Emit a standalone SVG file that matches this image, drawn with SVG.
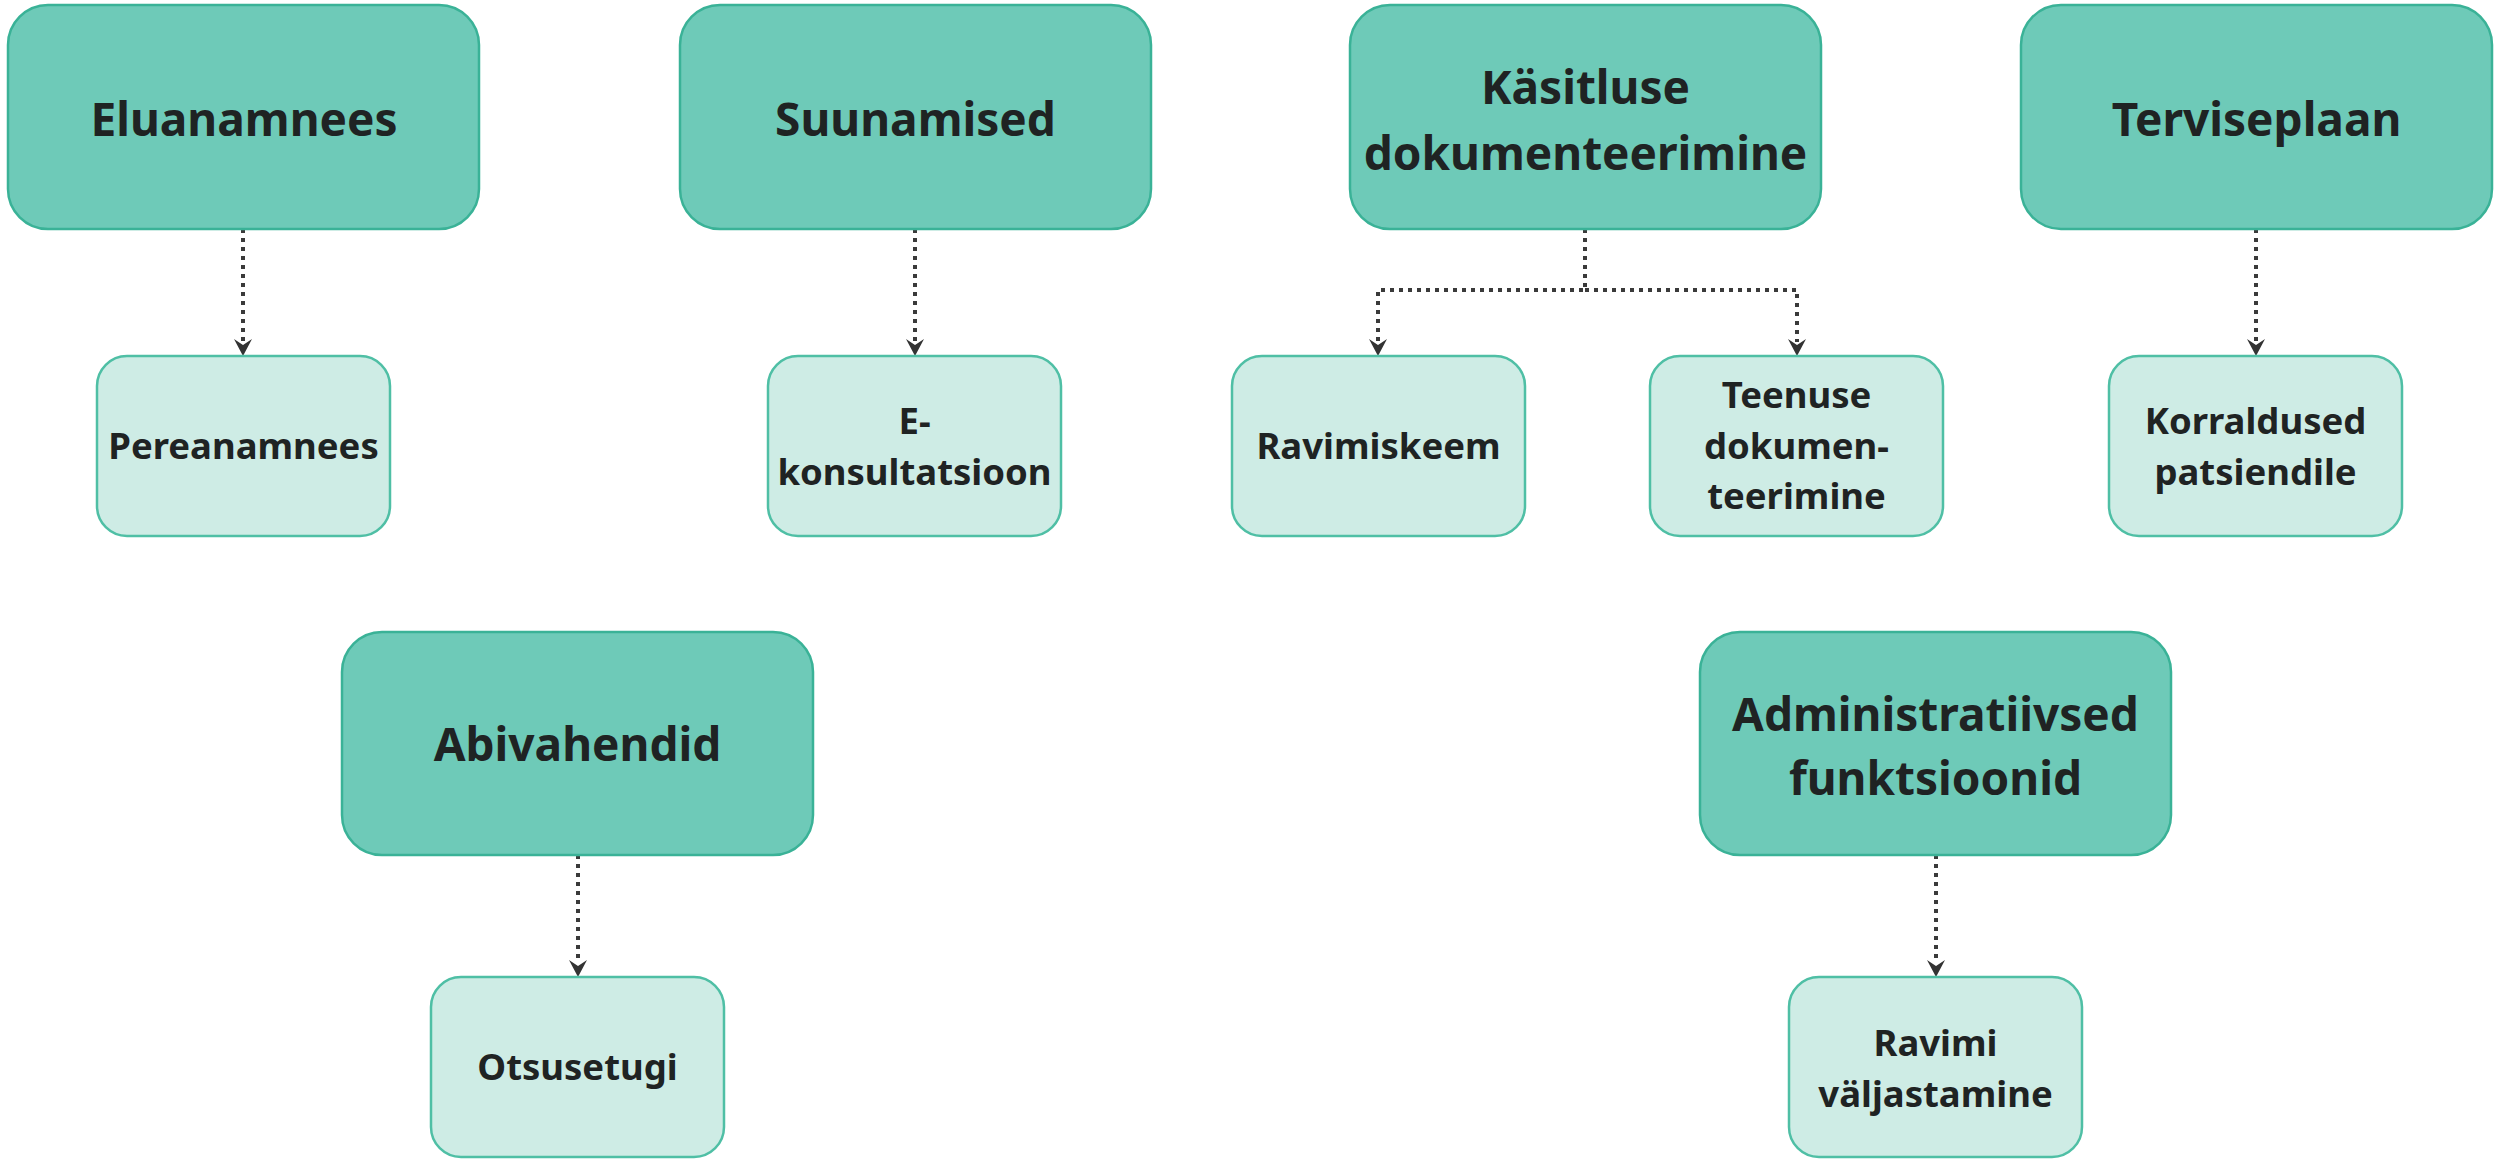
<svg xmlns="http://www.w3.org/2000/svg" width="2496" height="1160" viewBox="0 0 2496 1160">
<defs>
<style>
.big{fill:#6ECAB8;stroke:#3AB297;stroke-width:2.5}
.small{fill:#CEECE5;stroke:#4FBFA5;stroke-width:2.5}
.bt{font-family:"Noto Sans","Open Sans",sans-serif;font-weight:700;font-size:46px;fill:#1f2323;text-anchor:middle}
.st{font-family:"Noto Sans","Open Sans",sans-serif;font-weight:700;font-size:36.5px;fill:#1f2323;text-anchor:middle}
.c{fill:none;stroke:#3a3a3a;stroke-width:4;stroke-dasharray:4 5}
</style>
</defs>
<rect width="2496" height="1160" fill="#fff"/>
<g id="connectors">
<path class="c" d="M243,229 V342"/>
<path class="c" d="M915,229 V342"/>
<path class="c" d="M1585,229 V290 H1378 V342"/>
<path class="c" d="M1585,290 H1797 V342"/>
<path class="c" d="M2256,229 V342"/>
<path class="c" d="M578,855 V963"/>
<path class="c" d="M1936,855 V963"/>
</g>
<g id="arrowheads" fill="#333">
<path d="M234,339 L243,345 L252,339 L243,356 Z"/>
<path d="M906,339 L915,345 L924,339 L915,356 Z"/>
<path d="M1369,339 L1378,345 L1387,339 L1378,356 Z"/>
<path d="M1788,339 L1797,345 L1806,339 L1797,356 Z"/>
<path d="M2247,339 L2256,345 L2265,339 L2256,356 Z"/>
<path d="M569,960 L578,966 L587,960 L578,977 Z"/>
<path d="M1927,960 L1936,966 L1945,960 L1936,977 Z"/>
</g>
<g id="n-eluanamnees"><rect class="big" x="8" y="5" width="471" height="224" rx="40"/><text class="bt" x="244" y="136">Eluanamnees</text></g>
<g id="n-suunamised"><rect class="big" x="680" y="5" width="471" height="224" rx="40"/><text class="bt" x="915.5" y="136">Suunamised</text></g>
<g id="n-kasitluse"><rect class="big" x="1350" y="5" width="471" height="224" rx="40"/><text class="bt" x="1585.5" y="104">Käsitluse</text><text class="bt" x="1585.5" y="170">dokumenteerimine</text></g>
<g id="n-terviseplaan"><rect class="big" x="2021" y="5" width="471" height="224" rx="40"/><text class="bt" x="2256.5" y="136">Terviseplaan</text></g>
<g id="n-pereanamnees"><rect class="small" x="97" y="356" width="293" height="180" rx="30"/><text class="st" x="243.5" y="459">Pereanamnees</text></g>
<g id="n-ekonsultatsioon"><rect class="small" x="768" y="356" width="293" height="180" rx="30"/><text class="st" x="914.5" y="434">E-</text><text class="st" x="914.5" y="485">konsultatsioon</text></g>
<g id="n-ravimiskeem"><rect class="small" x="1232" y="356" width="293" height="180" rx="30"/><text class="st" x="1378.5" y="459">Ravimiskeem</text></g>
<g id="n-teenuse"><rect class="small" x="1650" y="356" width="293" height="180" rx="30"/><text class="st" x="1796.5" y="408">Teenuse</text><text class="st" x="1796.5" y="459">dokumen-</text><text class="st" x="1796.5" y="509">teerimine</text></g>
<g id="n-korraldused"><rect class="small" x="2109" y="356" width="293" height="180" rx="30"/><text class="st" x="2255.5" y="434">Korraldused</text><text class="st" x="2255.5" y="485">patsiendile</text></g>
<g id="n-abivahendid"><rect class="big" x="342" y="632" width="471" height="223" rx="40"/><text class="bt" x="577.5" y="761">Abivahendid</text></g>
<g id="n-administratiivsed"><rect class="big" x="1700" y="632" width="471" height="223" rx="40"/><text class="bt" x="1935.5" y="731">Administratiivsed</text><text class="bt" x="1935.5" y="795">funktsioonid</text></g>
<g id="n-otsusetugi"><rect class="small" x="431" y="977" width="293" height="180" rx="30"/><text class="st" x="577.5" y="1080">Otsusetugi</text></g>
<g id="n-ravimi"><rect class="small" x="1789" y="977" width="293" height="180" rx="30"/><text class="st" x="1935.5" y="1056">Ravimi</text><text class="st" x="1935.5" y="1107">väljastamine</text></g>
</svg>
